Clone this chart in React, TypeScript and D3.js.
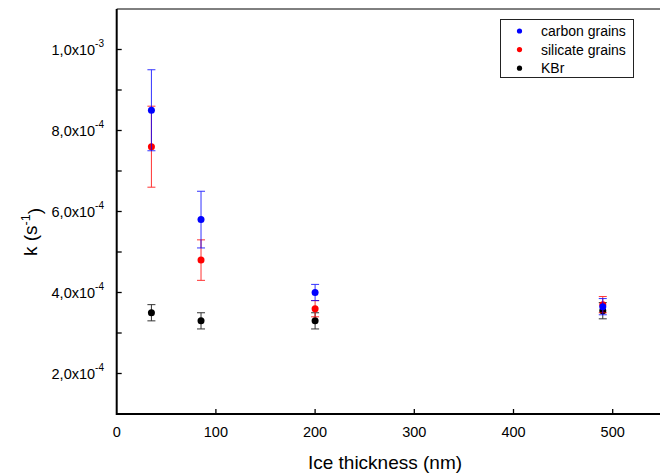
import React from 'react';
import * as d3 from 'd3';

// ice thickness (nm)
const thickness = [35, 85, 200, 490];

// rate constants k (s^-1) and their errors
const carbonK = [8.5e-4, 5.8e-4, 4.0e-4, 3.65e-4];
const carbonErr = [1.0e-4, 7e-5, 2e-5, 2e-5];
const silicateK = [7.6e-4, 4.8e-4, 3.6e-4, 3.7e-4];
const silicateErr = [1.0e-4, 5e-5, 2e-5, 2e-5];
const kbrK = [3.5e-4, 3.3e-4, 3.3e-4, 3.55e-4];
const kbrErr = [2e-5, 2e-5, 2e-5, 2e-5];

const seriesNames = ['carbon grains', 'silicate grains', 'KBr'];
const seriesColors = ['#0000ff', '#ff0000', '#000000'];

const xTicks = [0, 100, 200, 300, 400, 500];
const yMajor = [2e-4, 4e-4, 6e-4, 8e-4, 1e-3];
const yMinor = [3e-4, 5e-4, 7e-4, 9e-4];
const yLabels = [
  ['2,0x10', '-4'],
  ['4,0x10', '-4'],
  ['6,0x10', '-4'],
  ['8,0x10', '-4'],
  ['1,0x10', '-3'],
];

const FONT = 'Liberation Sans, Arial, sans-serif';

export default function App() {
  const x = d3.scaleLinear().domain([0, 550]).range([116.7, 662.3]);
  const y = d3.scaleLinear().domain([1e-4, 1.1e-3]).range([414, 9]);
  const x0 = x(0);
  const yBot = y(1e-4);
  const yTop = y(1.1e-3);

  // drawn back to front
  const series = [
    { vals: kbrK, err: kbrErr, color: seriesColors[2] },
    { vals: silicateK, err: silicateErr, color: seriesColors[1] },
    { vals: carbonK, err: carbonErr, color: seriesColors[0] },
  ];

  const cap = 4;

  return (
    <svg
      width={660}
      height={474}
      style={{ position: 'absolute', top: 0, left: 0, background: '#fff' }}
      fontFamily={FONT}
    >
      {/* frame */}
      <line x1={x0} x2={x(550)} y1={yTop} y2={yTop} stroke="#000" strokeWidth={1} />
      <line x1={x(550)} x2={x(550)} y1={yTop} y2={yBot} stroke="#000" strokeWidth={1} />

      {/* x ticks */}
      {xTicks.map((t) => (
        <g key={'xt' + t}>
          {t > 0 && (
            <line x1={x(t)} x2={x(t)} y1={yBot} y2={yBot - 5} stroke="#000" strokeWidth={1.3} />
          )}
          <text x={x(t)} y={437} fontSize={14.5} textAnchor="middle" fill="#000">
            {t}
          </text>
        </g>
      ))}

      {/* y ticks */}
      {yMajor.concat(yMinor).map((t) => (
        <line key={'yt' + t} x1={x0} x2={x0 + 5} y1={y(t)} y2={y(t)} stroke="#000" strokeWidth={1.3} />
      ))}
      {yMajor.map((t, i) => (
        <text key={'yl' + t} x={104} y={y(t)} fontSize={14.5} textAnchor="end" fill="#000" dy="0.35em">
          {yLabels[i][0]}
          <tspan fontSize={10} dy="-0.75em">{yLabels[i][1]}</tspan>
        </text>
      ))}

      {/* axes */}
      <line x1={x0} x2={x(550)} y1={yBot} y2={yBot} stroke="#000" strokeWidth={2} />
      <line x1={x0} x2={x0} y1={yTop} y2={yBot + 1} stroke="#000" strokeWidth={2} />

      {/* data */}
      {series.map((s, si) => (
        <g key={'s' + si}>
          {thickness.map((t, i) => {
            const cx = x(t);
            const hi = y(s.vals[i] + s.err[i]);
            const lo = y(s.vals[i] - s.err[i]);
            return (
              <g key={i} stroke={s.color} strokeWidth={1} opacity={0.8}>
                <line x1={cx} x2={cx} y1={hi} y2={lo} />
                <line x1={cx - cap} x2={cx + cap} y1={hi} y2={hi} />
                <line x1={cx - cap} x2={cx + cap} y1={lo} y2={lo} />
              </g>
            );
          })}
          {thickness.map((t, i) => (
            <circle key={'p' + i} cx={x(t)} cy={y(s.vals[i])} r={3.5} fill={s.color} />
          ))}
        </g>
      ))}

      {/* axis titles */}
      <text x={385} y={469} fontSize={19} textAnchor="middle" fill="#000">
        Ice thickness (nm)
      </text>
      <text transform="translate(37,232) rotate(-90)" fontSize={19} textAnchor="middle" fill="#000">
        k (s<tspan fontSize={12.5} dy="-0.6em">-1</tspan>
        <tspan dy="0.6em">)</tspan>
      </text>

      {/* legend */}
      <rect x={500.5} y={19.5} width={133} height={58} fill="#fff" stroke="#222" strokeWidth={1} />
      {seriesNames.map((n, i) => (
        <g key={'lg' + i}>
          <circle cx={519.5} cy={31 + i * 18.6} r={2.6} fill={seriesColors[i]} />
          <text x={541} y={31 + i * 18.6} dy="0.35em" fontSize={14} fill="#000">
            {n}
          </text>
        </g>
      ))}
    </svg>
  );
}
